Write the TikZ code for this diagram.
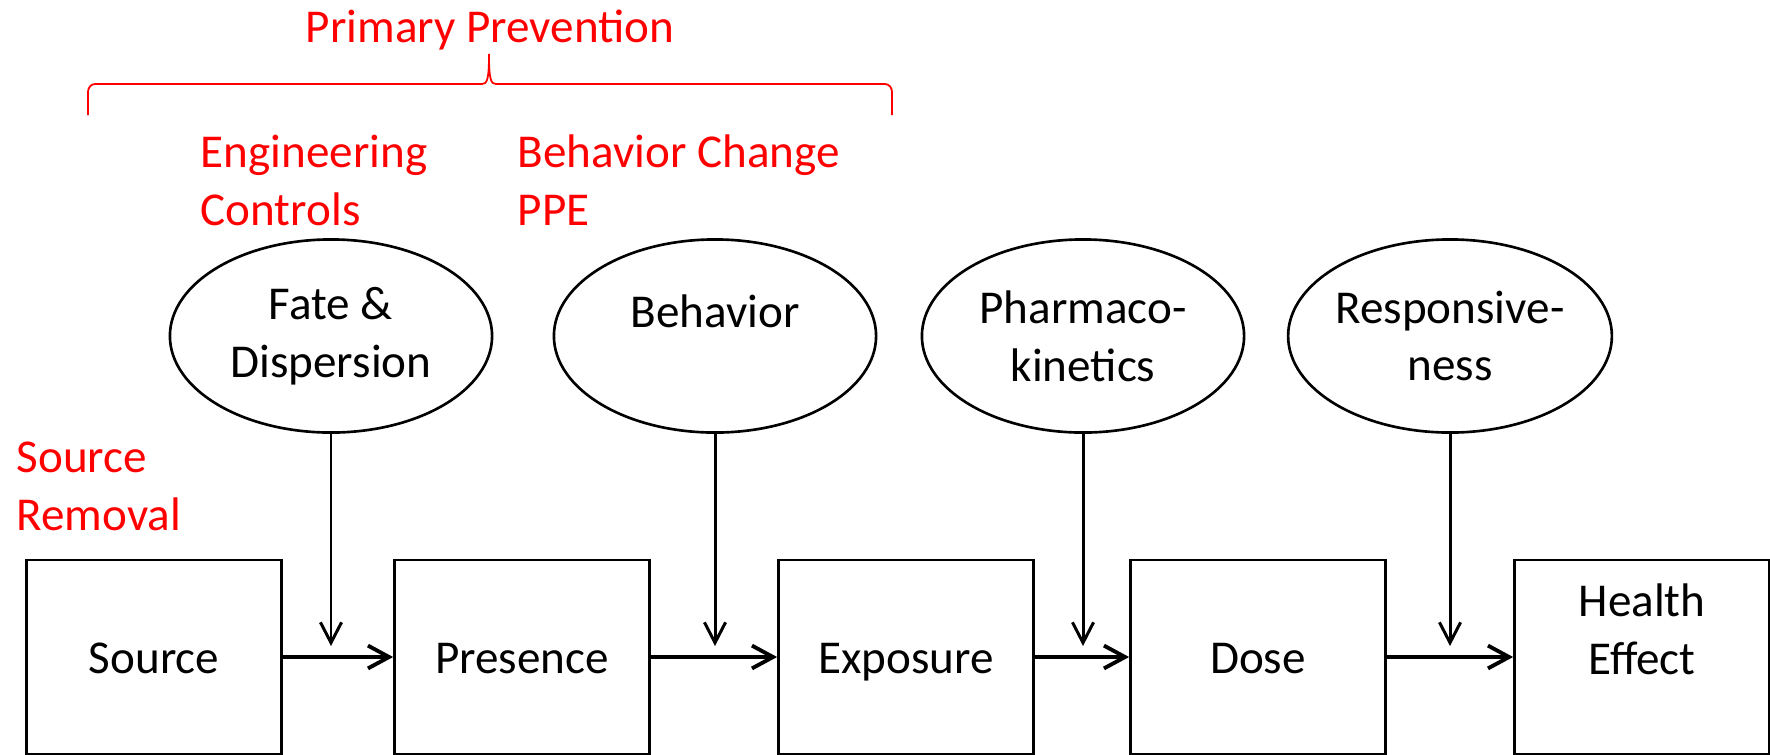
\documentclass[tikz,border=0pt]{standalone}
\usepackage{fontspec}
\setmainfont{Carlito}
\usetikzlibrary{arrows.meta,shapes.geometric}
\definecolor{pptred}{HTML}{FF0000}
\tikzset{
  stage/.style={
    rectangle, draw=black, line width=0.75pt,
    minimum width=2.55cm, minimum height=1.94cm,
    inner sep=0pt, align=center,
    font=\fontsize{13.4}{16.4}\selectfont,
    text height=0.36cm, text depth=0.04cm
  },
  stagetext/.style={
    inner sep=0pt, align=center,
    font=\fontsize{13.4}{16.4}\selectfont
  },
  factor/.style={
    ellipse, draw=black, line width=0.75pt,
    minimum width=3.22cm, minimum height=1.93cm,
    inner sep=0pt, align=center,
    font=\fontsize{13.4}{16.4}\selectfont
  },
  note/.style={
    text=pptred, inner sep=0pt, align=left,
    font=\fontsize{13.4}{16.4}\selectfont
  },
  flow/.style={
    -{Straight Barb[length=6pt, width=6.5pt]}, line width=1.1pt
  },
  influence/.style={
    -{Straight Barb[length=5.8pt, width=6pt]}, line width=0.85pt
  },
  bracket/.style={draw=pptred, line width=0.5pt}
}

\begin{document}
\begin{tikzpicture}[x=0.01cm, y=-0.01cm]
  \useasboundingbox (0,0) rectangle (1770,754);
  \clip (0,0) rectangle (1770,754);

  % prevention labels (base = last line)
  \node[note, anchor=base] (primary) at (490,42) {Primary Prevention};
  \draw[bracket] (88,115) -- (88,92) to[out=90, in=180] (95,84) -- (482,84)
    .. controls (487,84) and (489,80) .. (489,54)
    .. controls (489,80) and (491,84) .. (496,84) -- (885,84)
    to[out=0, in=90] (892,92) -- (892,115);
  \node[note, anchor=base west] (engctrl) at (200,225) {Engineering\\Controls};
  \node[note, anchor=base west] (behchg) at (517,225) {Behavior Change\\PPE};
  \node[note, anchor=base west] (srcrem) at (16,530) {Source\\Removal};

  % modifying factors
  \node[factor] (fate) at (331,336) {Fate \&\\Dispersion};
  \node[factor, text height=0.32cm, text depth=0.5cm] (behav) at (715,336) {Behavior};
  \node[factor] (pharm) at (1083,336) {Pharmaco-\\kinetics};
  \node[factor] (resp) at (1450,336) {Responsive-\\ness};

  % exposure chain
  \node[stage] (src) at (154,657) {Source};
  \node[stage] (pres) at (522,657) {Presence};
  \node[stage] (expo) at (906,657) {Exposure};
  \node[stage] (dose) at (1258,657) {Dose};
  \node[stage] (health) at (1642,657) {};
  \node[stagetext] (healthtxt) at (1642,629) {Health\\Effect};

  \foreach \f/\a/\b in {fate/src/pres, behav/pres/expo, pharm/expo/dose, resp/dose/health}{
    \draw[flow] (\a) -- (\b);
    \coordinate (\f in) at (\f.south |- 0,646);
    \draw[influence] (\f.south) -- (\f in);
  }
\end{tikzpicture}
\end{document}
